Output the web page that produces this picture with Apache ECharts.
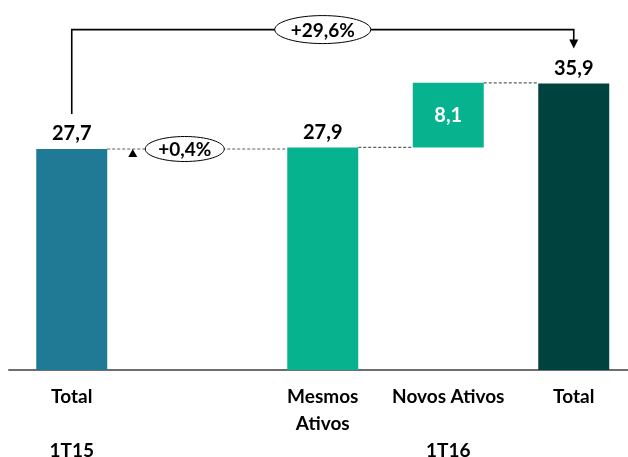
<!DOCTYPE html>
<html>
<head>
<meta charset="utf-8">
<script src="https://cdn.jsdelivr.net/npm/echarts@6/dist/echarts.min.js"></script>
<style>
  html, body { margin: 0; padding: 0; background: #fff; }
  #chart { width: 628px; height: 457px; }
</style>
</head>
<body>
<div id="chart"></div>
<script>
// Receita por período (waterfall 1T15 -> 1T16)
const categories = ['Total', '', 'Mesmos\nAtivos', 'Novos Ativos', 'Total'];
const periods = ['1T15', '', '', '1T16', ''];
const values = [27.7, null, 27.9, 8.1, 35.9];
const isStep = [false, false, false, true, false];   // floating increment bars
const barColors = ['#217A95', null, '#07B38E', '#07B38E', '#00433E'];
const growthLabels = ['+0,4%', '+29,6%'];

// Each increment bar starts at the previous bar's top; totals start at zero.
const bases = [];
let running = 0;
values.forEach(function (v, i) {
  if (v == null) { bases.push(null); return; }
  if (isStep[i]) { bases.push(running); running += v; }
  else { bases.push(0); running = v; }
});
const tops = values.map(function (v, i) { return v == null ? null : bases[i] + v; });

const BAR_W = 71;
const FONT = 'Lato, "Open Sans", sans-serif';
const fmt = function (v) { return String(v).replace('.', ','); };

const chart = echarts.init(document.getElementById('chart'), null, { renderer: 'canvas' });

function renderAnnotations(params, api) {
  const pt = function (i, v) { return api.coord([i, v]); };
  const half = BAR_W / 2;
  const children = [];

  // dashed connectors between consecutive bar tops
  const idx = values.map(function (v, i) { return v == null ? -1 : i; }).filter(function (i) { return i >= 0; });
  for (let k = 0; k < idx.length - 1; k++) {
    const i = idx[k], j = idx[k + 1];
    const a = pt(i, tops[i]), b = pt(j, tops[i]);
    children.push({
      type: 'line',
      shape: { x1: a[0] + half, y1: a[1], x2: b[0] - half, y2: a[1] },
      style: { stroke: '#5f5f5f', lineWidth: 1.2, lineDash: [3, 2] }
    });
  }

  // small growth badge in the empty slot
  const gap = pt(1, tops[0]);
  const ecx = gap[0] - 12.5, ecy = gap[1];
  children.push({
    type: 'polygon',
    shape: { points: [[ecx - 52, ecy], [ecx - 56.5, ecy + 8], [ecx - 47.5, ecy + 8]] },
    style: { fill: '#000' }
  });
  children.push({
    type: 'ellipse',
    shape: { cx: ecx, cy: ecy, rx: 39.5, ry: 12.5 },
    style: { fill: '#fff', stroke: '#000', lineWidth: 1 }
  });
  children.push({
    type: 'text',
    style: { x: ecx, y: ecy + 1, text: growthLabels[0], fill: '#000', font: 'bold 19px ' + FONT, align: 'center', verticalAlign: 'middle' }
  });

  // bracket from first total to last total
  const first = idx[0], last = idx[idx.length - 1];
  const p0 = pt(first, tops[first]), p1 = pt(last, tops[last]);
  const yStart = p0[1] - 35;
  const yTip = p1[1] - 35;
  const yTop = Math.min(yStart, yTip) - 19;
  children.push({
    type: 'polyline',
    shape: { points: [[p0[0], yStart], [p0[0], yTop], [p1[0], yTop], [p1[0], yTip - 8]] },
    style: { stroke: '#000', lineWidth: 1.6, fill: null }
  });
  children.push({
    type: 'polygon',
    shape: { points: [[p1[0] - 4.5, yTip - 9], [p1[0] + 4.5, yTip - 9], [p1[0], yTip]] },
    style: { fill: '#000' }
  });
  const mcx = (p0[0] + p1[0]) / 2;
  children.push({
    type: 'ellipse',
    shape: { cx: mcx, cy: yTop, rx: 48, ry: 14 },
    style: { fill: '#fff', stroke: '#000', lineWidth: 1 }
  });
  children.push({
    type: 'text',
    style: { x: mcx, y: yTop + 1, text: growthLabels[1], fill: '#000', font: 'bold 19px ' + FONT, align: 'center', verticalAlign: 'middle' }
  });

  return { type: 'group', children: children };
}

chart.setOption({
  animation: false,
  grid: { left: 9, width: 627.5, top: 3, bottom: 87, containLabel: false, outerBoundsMode: 'none' },
  xAxis: {
    type: 'category',
    data: categories,
    axisLine: { show: true, lineStyle: { color: '#6e6e6e', width: 2 } },
    axisTick: { show: false },
    axisLabel: {
      interval: 0,
      margin: 13,
      color: '#000',
      fontFamily: FONT,
      fontWeight: 'bold',
      fontSize: 19,
      lineHeight: 27,
      formatter: function (val, i) {
        return periods[i] ? val + '\n\n' + periods[i] : val;
      }
    }
  },
  yAxis: { type: 'value', min: 0, max: 46, show: false, splitLine: { show: false } },
  series: [
    {
      name: 'base',
      type: 'bar',
      stack: 'w',
      barWidth: BAR_W,
      silent: true,
      itemStyle: { color: 'transparent' },
      data: bases.map(function (b) { return b == null ? '-' : b; })
    },
    {
      name: 'valor',
      type: 'bar',
      stack: 'w',
      barWidth: BAR_W,
      data: values.map(function (v, i) {
        if (v == null) return '-';
        return {
          value: v,
          itemStyle: { color: barColors[i] },
          label: isStep[i]
            ? { position: 'inside', color: '#fff' }
            : { position: 'top', color: '#000', distance: 5 }
        };
      }),
      label: {
        show: true,
        fontFamily: FONT,
        fontWeight: 'bold',
        fontSize: 20,
        formatter: function (p) { return fmt(p.value); }
      }
    },
    {
      type: 'custom',
      coordinateSystem: 'cartesian2d',
      silent: true,
      clip: false,
      z: 10,
      data: [[0, 0]],
      renderItem: renderAnnotations
    }
  ]
});
</script>
</body>
</html>
